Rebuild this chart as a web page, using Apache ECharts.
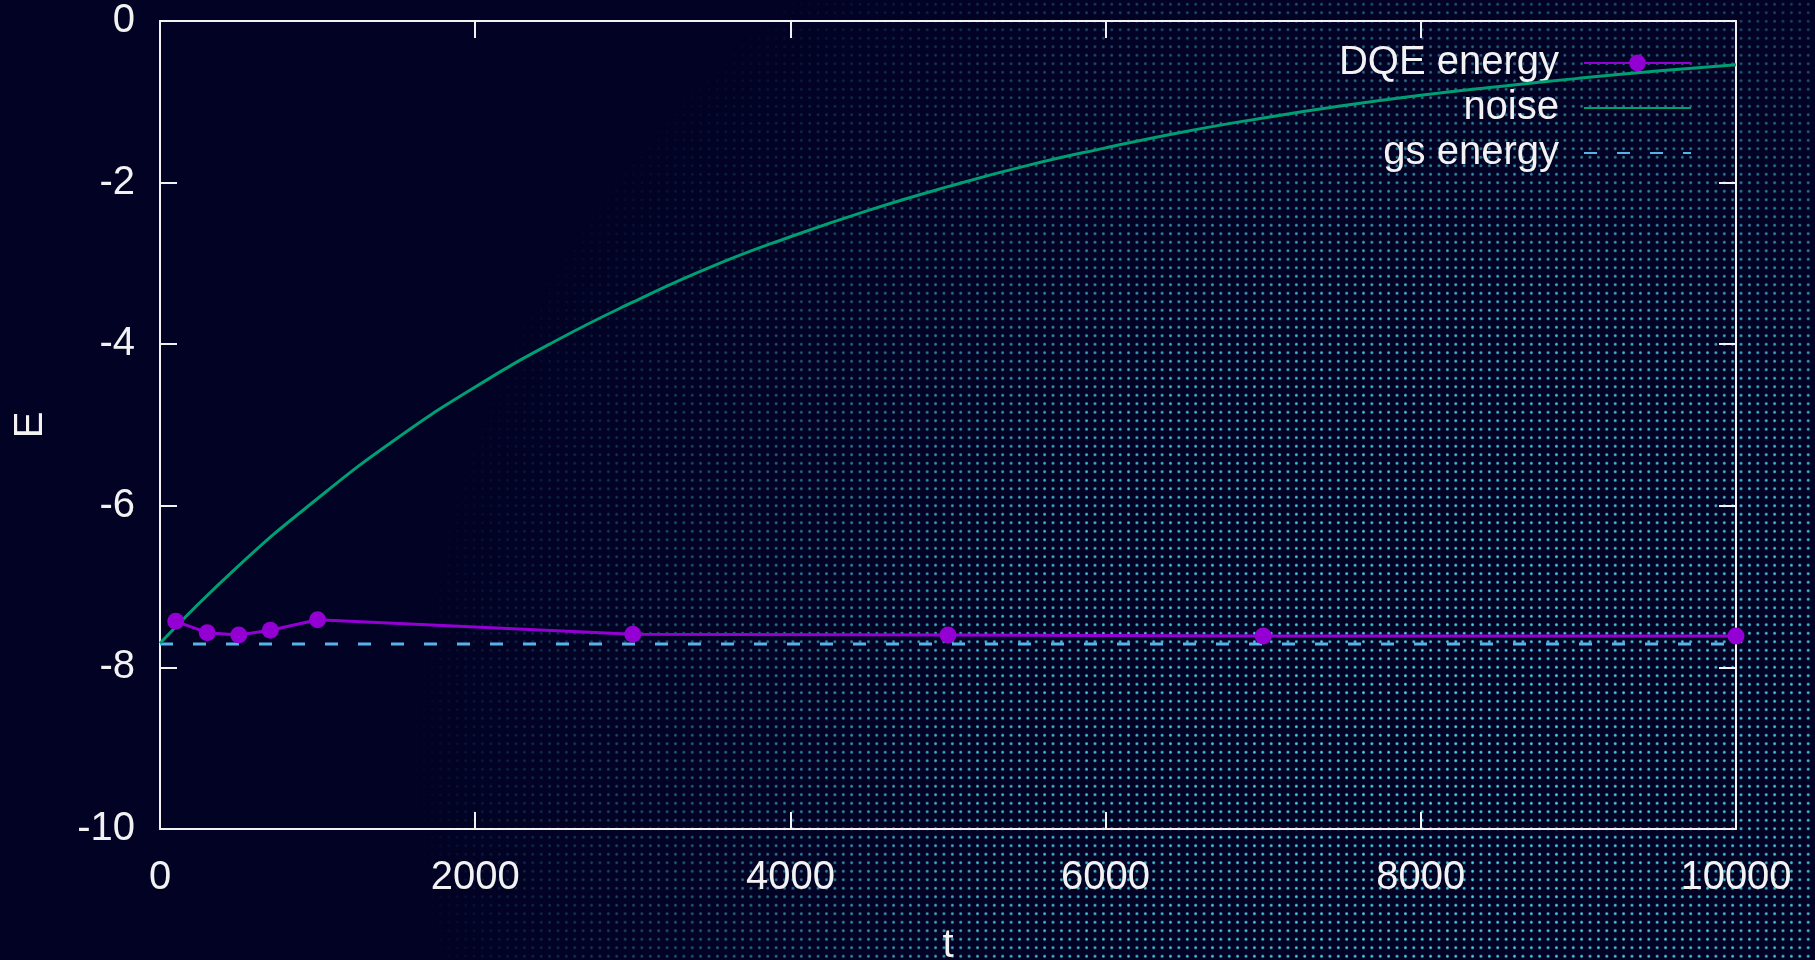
<!DOCTYPE html>
<html>
<head>
<meta charset="utf-8">
<script src="https://cdn.jsdelivr.net/npm/echarts@6/dist/echarts.min.js"></script>
<style>
  html, body { margin: 0; padding: 0; width: 1815px; height: 960px; overflow: hidden; background: #020224; }
  #dots {
    position: absolute; left: 0; top: 0; width: 1815px; height: 960px;
    background-image: radial-gradient(circle, rgba(80,215,235,1) 0.9px, rgba(70,205,225,0.4) 1.5px, transparent 2px);
    background-size: 8.4px 8.5px;
    -webkit-mask-image: radial-gradient(ellipse 1200px 1150px at 1450px 760px, rgba(0,0,0,1) 0%, rgba(0,0,0,0.85) 40%, rgba(0,0,0,0.4) 65%, rgba(0,0,0,0) 87%);
    mask-image: radial-gradient(ellipse 1200px 1150px at 1450px 760px, rgba(0,0,0,1) 0%, rgba(0,0,0,0.85) 40%, rgba(0,0,0,0.4) 65%, rgba(0,0,0,0) 87%);
  }
  #chart { position: absolute; left: 0; top: 0; width: 1815px; height: 960px; }
</style>
</head>
<body>
<div id="dots"></div>
<div id="chart"></div>
<script>
// ---- data ----
const dqeT = [100, 300, 500, 700, 1000, 3000, 5000, 7000, 10000];
const dqeE = [-7.43, -7.57, -7.60, -7.54, -7.41, -7.59, -7.60, -7.61, -7.61];

const noiseT = [0, 500, 1000, 1500, 2000, 2500, 3000, 3500, 4000, 4500, 5000,
                5500, 6000, 6500, 7000, 7500, 8000, 8500, 9000, 9500, 10000];
const noiseE = [-7.70, -6.74, -5.91, -5.17, -4.53, -3.97, -3.48, -3.04, -2.67, -2.34, -2.05,
                -1.79, -1.57, -1.37, -1.20, -1.05, -0.92, -0.81, -0.71, -0.62, -0.54];

const gsT = [0, 10000];
const gsE = [-7.71, -7.71];

const seriesNames = ['DQE energy', 'noise', 'gs energy'];
const xTicks = [0, 2000, 4000, 6000, 8000, 10000];
const yTicks = [0, -2, -4, -6, -8, -10];

const zip = (a, b) => a.map((v, i) => [v, b[i]]);

const FONT = 'Liberation Sans, Arial, sans-serif';
const WHITE = '#f2f2f2';

const axisLineStyle = () => ({ show: true, onZero: false, lineStyle: { color: WHITE, width: 2 } });
const tickStyle = () => ({ show: true, inside: true, length: 17, lineStyle: { color: WHITE, width: 2 } });

const chart = echarts.init(document.getElementById('chart'), null, { renderer: 'canvas' });
chart.setOption({
  backgroundColor: 'transparent',
  animation: false,
  textStyle: { fontFamily: FONT },
  grid: { left: 160, right: 79, top: 21, bottom: 131, containLabel: false, outerBoundsMode: 'none' },
  legend: {
    data: [
      { name: seriesNames[0] },
      { name: seriesNames[1], itemStyle: { opacity: 0 } },
      { name: seriesNames[2], itemStyle: { opacity: 0 } }
    ],
    orient: 'vertical',
    right: 123,
    top: 43,
    padding: 0,
    itemGap: 5,
    itemWidth: 107,
    itemHeight: 21,
    align: 'right',
    z: 1,
    textStyle: { color: WHITE, fontSize: 40, fontFamily: FONT, lineHeight: 40, padding: [0, 20, 0, 0] }
  },
  xAxis: [{
    type: 'value', min: xTicks[0], max: xTicks[xTicks.length - 1], interval: 2000,
    position: 'bottom',
    name: 't', nameLocation: 'middle', nameGap: 97,
    nameTextStyle: { color: WHITE, fontSize: 40, fontFamily: FONT },
    axisLine: axisLineStyle(), axisTick: tickStyle(), splitLine: { show: false },
    axisLabel: { color: WHITE, fontSize: 40, fontFamily: FONT, margin: 29, formatter: v => String(v) }
  }, {
    type: 'value', min: xTicks[0], max: xTicks[xTicks.length - 1], interval: 2000,
    position: 'top',
    axisLine: axisLineStyle(), axisTick: tickStyle(), splitLine: { show: false },
    axisLabel: { show: false }
  }],
  yAxis: [{
    type: 'value', min: yTicks[yTicks.length - 1], max: yTicks[0], interval: 2,
    position: 'left',
    name: 'E', nameLocation: 'middle', nameGap: 109, nameRotate: 90,
    nameTextStyle: { color: WHITE, fontSize: 40, fontFamily: FONT },
    axisLine: axisLineStyle(), axisTick: tickStyle(), splitLine: { show: false },
    axisLabel: { color: WHITE, fontSize: 40, fontFamily: FONT, margin: 25, formatter: v => String(v) }
  }, {
    type: 'value', min: yTicks[yTicks.length - 1], max: yTicks[0], interval: 2,
    position: 'right',
    axisLine: axisLineStyle(), axisTick: tickStyle(), splitLine: { show: false },
    axisLabel: { show: false }
  }],
  series: [{
    name: seriesNames[0], type: 'line', data: zip(dqeT, dqeE),
    symbol: 'circle', symbolSize: 17, showSymbol: true, z: 4,
    lineStyle: { color: '#9400d3', width: 3 },
    itemStyle: { color: '#9400d3' }
  }, {
    name: seriesNames[1], type: 'line', data: zip(noiseT, noiseE),
    smooth: true, symbol: 'none', showSymbol: false, z: 3,
    lineStyle: { color: '#009e73', width: 3 },
    itemStyle: { color: '#009e73' }
  }, {
    name: seriesNames[2], type: 'line', data: zip(gsT, gsE),
    symbol: 'none', showSymbol: false, z: 2,
    lineStyle: { color: '#56b4e9', width: 3, type: [13, 20] },
    itemStyle: { color: '#56b4e9' }
  }]
});
</script>
</body>
</html>
